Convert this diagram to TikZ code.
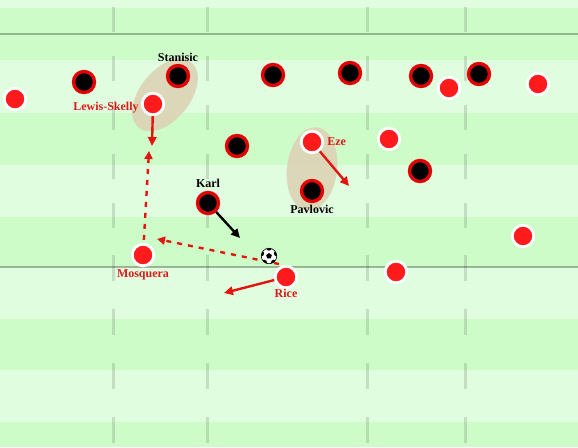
\documentclass[tikz,border=0pt]{standalone}
\usepackage{fontspec}
\setmainfont{Liberation Serif}
\usepackage{tikz}
\usetikzlibrary{arrows.meta, positioning, shapes.geometric}
\definecolor{pitchLight}{HTML}{E0FDDF}
\definecolor{pitchDark}{HTML}{CDFCC9}
\definecolor{arsRed}{HTML}{FF1B1B}
\definecolor{ringRed}{HTML}{E00404}
\definecolor{tagRed}{HTML}{D91A1A}
\definecolor{runRed}{HTML}{E2160F}
\definecolor{pairTan}{HTML}{DDD3B5}

\begin{document}
\begin{tikzpicture}[x=1pt, y=-1pt,
  homep/.style={circle, fill=arsRed, draw=white, line width=2.8pt, minimum size=21.5pt, inner sep=0pt},
  awayp/.style={circle, fill=black, draw=ringRed, line width=3.4pt, minimum size=21pt, inner sep=0pt},
  pairblob/.style={ellipse, fill=pairTan, fill opacity=0.9, inner sep=0pt},
  redtag/.style={font=\fontsize{12}{14}\selectfont\bfseries, text=tagRed, inner sep=0pt},
  blktag/.style={font=\fontsize{12}{14}\selectfont\bfseries, text=black, inner sep=0pt},
  run/.style={line width=2.4pt, -{Triangle[length=9pt,width=8.5pt]}},
  pass/.style={line width=2.4pt, dash pattern=on 5pt off 6pt, draw=runRed, -{Triangle[length=8pt,width=8pt]}},
  pline/.style={black, opacity=0.28, line width=1.4pt},
  pdash/.style={black, opacity=0.12, line width=3pt},
  ballbody/.style={circle, fill=white, draw=black, line width=0.6pt, minimum size=15.5pt, inner sep=0pt},
  ballpatch/.style={regular polygon, regular polygon sides=5, fill=black, minimum size=6pt, inner sep=0pt},
]
  \fill[pitchLight] (0,0) rectangle (578,447);
  \foreach \a/\b in {8/60, 113/165, 217/267, 319/370, 422/447}
    \fill[pitchDark] (0,\a) rectangle (578,\b);
  \useasboundingbox (0,0) rectangle (578,447);
  \foreach \y in {34, 267} \draw[pline] (0,\y) -- (578,\y);
  \foreach \x in {113, 207, 367, 465} {
    \draw[pdash, dash pattern=on 25pt off 24pt] (\x,7) -- (\x,240);
    \draw[pdash, dash pattern=on 26pt off 28pt] (\x,255) -- (\x,447);
  }

  \node[pairblob, minimum width=84pt, minimum height=50pt, rotate=51] (lspair) at (165,95) {};
  \node[pairblob, minimum width=84pt, minimum height=50pt, rotate=83] (ezpair) at (312,169) {};

  \foreach \x/\y [count=\i] in {15/99, 389/139, 449/88, 538/84, 523/236, 396/272}
    \node[homep] (home\i) at (\x,\y) {};
  \node[homep] (lewis) at (153,104) {};
  \node[homep] (eze) at (312,142) {};
  \node[homep] (mosq) at (143,255) {};
  \node[homep] (rice) at (286,277) {};

  \foreach \x/\y [count=\i] in {84/82, 273/75, 350/73, 421/76, 479/74, 237/146, 420/171}
    \node[awayp] (away\i) at (\x,\y) {};
  \node[awayp] (stan) at (178,76) {};
  \node[awayp] (pavl) at (312,191) {};
  \node[awayp] (karl) at (208,203) {};

  \coordinate (lsrecv) at (149,151);
  \coordinate (mqrecv) at (157,239);
  \coordinate (passfrom) at (279,264);
  \draw[pass, shorten <=3pt] (mosq) -- (lsrecv);
  \draw[pass] (passfrom) -- (mqrecv);

  \node[ballbody] (ball) at (269,256) {};
  \node[ballpatch] (ballmid) at (ball) {};
  \begin{scope}
    \clip (ball) circle (7.75pt);
    \foreach \a in {18,90,162,234,306} \fill (ball.center) ++(\a:8.2pt) circle (2.9pt);
  \end{scope}

  \coordinate (lsrun) at (152,146);
  \coordinate (ezrun) at (349,186);
  \coordinate (karlrun) at (240,238);
  \coordinate (ricerun) at (224,293);
  \draw[run, runRed] (lewis) -- (lsrun);
  \draw[run, runRed] (eze) -- (ezrun);
  \draw[run, black] (karl) -- (karlrun);
  \draw[run, runRed] (rice) -- (ricerun);

  \node[blktag, above=2pt of stan] (stanlbl) {Stanisic};
  \node[redtag, left=2pt of lewis, yshift=-4pt] (lewislbl) {Lewis-Skelly};
  \node[redtag, right=3pt of eze] (ezelbl) {Eze};
  \node[blktag, below=2pt of pavl] (pavllbl) {Pavlovic};
  \node[blktag, above=3pt of karl] (karllbl) {Karl};
  \node[redtag, below=2pt of mosq] (mosqlbl) {Mosquera};
  \node[redtag, below=0pt of rice] (ricelbl) {Rice};
\end{tikzpicture}
\end{document}
